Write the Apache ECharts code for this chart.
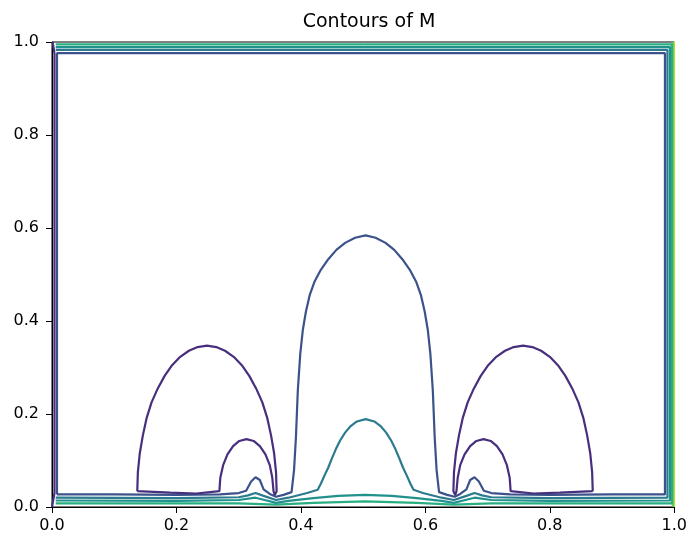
<!DOCTYPE html>
<html>
<head>
<meta charset="utf-8">
<script src="https://cdn.jsdelivr.net/npm/echarts@6/dist/echarts.min.js"></script>
<style>
  html, body { margin: 0; padding: 0; background: #fff; }
  #contour { width: 690px; height: 536px; }
</style>
</head>
<body>
<div id="contour"></div>
<script>
// axis ticks
const xTicks = [0.0, 0.2, 0.4, 0.6, 0.8, 1.0]
const yTicks = [0.0, 0.2, 0.4, 0.6, 0.8, 1.0]

// level 1 (purple): left edge + the two side arches
const purpleEdge = [[0, 0], [0.004, 0.03], [0.004, 0.975], [0.001, 1]]
const purpleLeftArch = [
  [0.137, 0.034], [0.138, 0.075], [0.141, 0.115], [0.146, 0.154], [0.152, 0.191],
  [0.160, 0.225], [0.170, 0.255], [0.181, 0.282], [0.193, 0.305], [0.206, 0.323],
  [0.220, 0.336], [0.234, 0.344], [0.249, 0.347], [0.264, 0.344], [0.278, 0.336],
  [0.292, 0.323], [0.305, 0.305], [0.317, 0.282], [0.328, 0.255], [0.338, 0.225],
  [0.346, 0.191], [0.352, 0.154], [0.357, 0.115], [0.360, 0.075], [0.361, 0.034],
  [0.358, 0.026],
  [0.356, 0.034], [0.354, 0.063], [0.350, 0.090], [0.343, 0.113], [0.334, 0.131],
  [0.324, 0.142], [0.3125, 0.146], [0.301, 0.142], [0.291, 0.131], [0.282, 0.113],
  [0.275, 0.090], [0.2705, 0.063], [0.269, 0.034],
  [0.232, 0.029], [0.190, 0.031], [0.137, 0.034]
]
const purpleRightArch = [
  [0.869, 0.034], [0.868, 0.075], [0.865, 0.115], [0.860, 0.154], [0.854, 0.191],
  [0.846, 0.225], [0.836, 0.255], [0.825, 0.282], [0.813, 0.305], [0.800, 0.323],
  [0.786, 0.336], [0.772, 0.344], [0.757, 0.347], [0.742, 0.344], [0.728, 0.336],
  [0.714, 0.323], [0.701, 0.305], [0.689, 0.282], [0.678, 0.255], [0.668, 0.225],
  [0.660, 0.191], [0.654, 0.154], [0.649, 0.115], [0.646, 0.075], [0.645, 0.034],
  [0.648, 0.026],
  [0.650, 0.034], [0.652, 0.063], [0.656, 0.090], [0.663, 0.113], [0.672, 0.131],
  [0.682, 0.142], [0.6935, 0.146], [0.705, 0.142], [0.715, 0.131], [0.724, 0.113],
  [0.731, 0.090], [0.7355, 0.063], [0.737, 0.034],
  [0.774, 0.029], [0.816, 0.031], [0.869, 0.034]
]

// level 2 (blue): outer frame + big central arch
const blueLevel = [
  [0.008, 0.027], [0.100, 0.027], [0.200, 0.026], [0.270, 0.027], [0.300, 0.030],
  [0.312, 0.035], [0.320, 0.055], [0.327, 0.064], [0.334, 0.058], [0.340, 0.038],
  [0.350, 0.028], [0.360, 0.022], [0.372, 0.026], [0.385, 0.032], [0.389, 0.080],
  [0.392, 0.150], [0.395, 0.250], [0.399, 0.330], [0.403, 0.380], [0.408, 0.420],
  [0.414, 0.455], [0.422, 0.485], [0.432, 0.510], [0.444, 0.533], [0.457, 0.553],
  [0.471, 0.568], [0.487, 0.579], [0.504, 0.584], [0.520, 0.579], [0.536, 0.568],
  [0.550, 0.553], [0.563, 0.533], [0.575, 0.510], [0.585, 0.485], [0.593, 0.455],
  [0.599, 0.420], [0.604, 0.380], [0.608, 0.330], [0.612, 0.250], [0.615, 0.150],
  [0.618, 0.080], [0.622, 0.032], [0.635, 0.026], [0.647, 0.022],
  [0.656, 0.028], [0.666, 0.038], [0.672, 0.058], [0.679, 0.064], [0.686, 0.055],
  [0.694, 0.035], [0.706, 0.030], [0.736, 0.027], [0.800, 0.026], [0.900, 0.027],
  [0.985, 0.027], [0.985, 0.976], [0.008, 0.976], [0.008, 0.027]
]

// level 3 (steel teal): small central arch
const steelLevel = [
  [0.006, 0.020], [0.200, 0.019], [0.300, 0.021], [0.315, 0.025], [0.327, 0.030],
  [0.340, 0.024], [0.360, 0.015], [0.380, 0.020], [0.410, 0.030], [0.427, 0.037],
  [0.432, 0.050], [0.438, 0.068], [0.444, 0.085], [0.450, 0.105], [0.456, 0.124],
  [0.463, 0.143], [0.471, 0.160], [0.480, 0.174], [0.490, 0.184], [0.504, 0.189],
  [0.518, 0.184], [0.528, 0.174], [0.537, 0.160], [0.545, 0.143], [0.552, 0.124],
  [0.558, 0.105], [0.564, 0.085], [0.570, 0.068], [0.576, 0.050], [0.581, 0.037],
  [0.596, 0.030], [0.626, 0.020], [0.646, 0.015], [0.666, 0.024],
  [0.679, 0.030], [0.691, 0.025], [0.706, 0.021], [0.800, 0.019], [0.989, 0.020],
  [0.989, 0.983], [0.006, 0.983]
]

// level 4 (teal): low hump in the middle
const tealLevel = [
  [0.006, 0.014], [0.200, 0.013], [0.300, 0.015], [0.327, 0.020], [0.345, 0.014],
  [0.360, 0.009], [0.380, 0.013], [0.420, 0.019], [0.460, 0.024], [0.503, 0.026],
  [0.546, 0.024], [0.586, 0.019], [0.626, 0.013], [0.646, 0.009], [0.661, 0.014],
  [0.679, 0.020], [0.706, 0.015], [0.800, 0.013], [0.993, 0.014], [0.993, 0.989],
  [0.006, 0.989]
]

// level 5 (green teal)
const greenTealLevel = [
  [0.006, 0.008], [0.300, 0.008], [0.360, 0.005], [0.420, 0.009], [0.503, 0.012],
  [0.586, 0.009], [0.646, 0.005], [0.706, 0.008], [0.996, 0.008], [0.996, 0.995],
  [0.006, 0.995]
]

// levels 6, 7 only hug the right edge
const greenLevel = [[0.9975, 0], [0.9975, 1]]
const yellowLevel = [[0.9995, 0], [0.9995, 1]]

function contour(data, color) {
  return {
    type: 'line',
    data: data,
    showSymbol: false,
    silent: true,
    lineStyle: { color: color, width: 2.2 },
    animation: false
  }
}

const option = {
  animation: false,
  title: {
    text: 'Contours of M',
    left: 364,
    top: 8,
    textAlign: 'center',
    textStyle: { fontFamily: 'DejaVu Sans', fontSize: 19, fontWeight: 'normal', color: '#000' }
  },
  grid: {
    left: 52, right: 14, top: 42, bottom: 29,
    show: true, borderColor: '#000', borderWidth: 1, backgroundColor: '#fff'
  },
  xAxis: {
    type: 'value', min: xTicks[0], max: xTicks[xTicks.length - 1], interval: 0.2,
    splitLine: { show: false },
    axisLine: { lineStyle: { color: '#000' } },
    axisTick: { show: true, length: 6, lineStyle: { color: '#000' } },
    axisLabel: {
      fontFamily: 'DejaVu Sans', fontSize: 16, color: '#000', margin: 11,
      formatter: v => v.toFixed(1)
    }
  },
  yAxis: {
    type: 'value', min: yTicks[0], max: yTicks[yTicks.length - 1], interval: 0.2,
    splitLine: { show: false },
    axisLine: { show: true, lineStyle: { color: '#000' } },
    axisTick: { show: true, length: 6, lineStyle: { color: '#000' } },
    axisLabel: {
      fontFamily: 'DejaVu Sans', fontSize: 16, color: '#000', margin: 13,
      formatter: v => v.toFixed(1)
    }
  },
  series: [
    contour(yellowLevel, '#b5de2b'),
    contour(greenLevel, '#5ec962'),
    contour(greenTealLevel, '#28ae80'),
    contour(tealLevel, '#21918c'),
    contour(steelLevel, '#2c7a8e'),
    contour(blueLevel, '#3b528b'),
    contour(purpleEdge, '#472f7d'),
    contour(purpleLeftArch, '#472f7d'),
    contour(purpleRightArch, '#472f7d')
  ]
}

let myChart = echarts.init(document.getElementById('contour'))
myChart.setOption(option)
</script>
</body>
</html>
